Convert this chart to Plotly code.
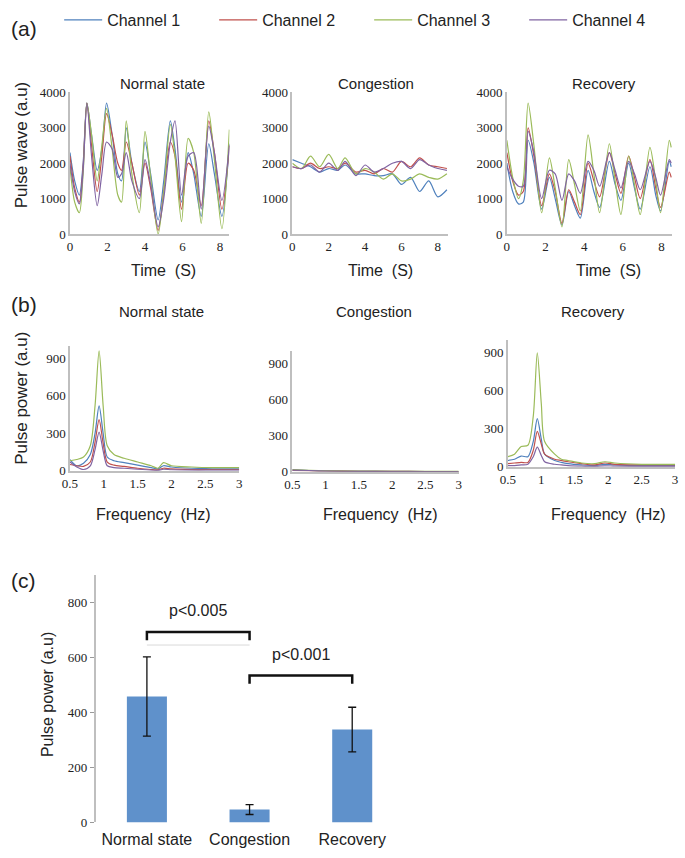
import plotly.graph_objects as go

W, H = 685, 858
def px(x): return x / W
def py(y): return 1 - y / H

channels = ["Channel 1", "Channel 2", "Channel 3", "Channel 4"]
colors = ["#4F81BD", "#C0504D", "#9BBB59", "#8064A2"]

# ---------------- (a) Pulse wave ----------------
t_normal = [0, 0.25, 0.5, 0.7, 0.9, 1.15, 1.45, 1.7, 1.95, 2.25, 2.55, 2.75, 3.0, 3.3, 3.7,
            4.0, 4.3, 4.7, 5.0, 5.35, 5.6, 5.95, 6.3, 6.6, 7.0, 7.4, 7.7, 8.1, 8.5]
normal_ch1 = [2300, 1500, 1100, 2000, 3700, 2800, 1800, 2400, 3700, 2800, 1700, 1500, 3000, 2000, 1200,
              2600, 1700, 400, 1500, 3200, 2400, 900, 2300, 1700, 500, 2550, 1700, 500, 2550]
normal_ch2 = [2200, 1300, 900, 1900, 3700, 2500, 1200, 2200, 3400, 2800, 2000, 1800, 2600, 2000, 1100,
              2000, 1300, 100, 1200, 2600, 2200, 700, 2000, 1800, 800, 3200, 2300, 700, 2500]
normal_ch3 = [1900, 900, 600, 1700, 3700, 2800, 1500, 2500, 3550, 2400, 1100, 900, 3200, 1700, 600,
              2900, 1600, 0, 1200, 3100, 2200, 350, 2700, 2300, 300, 3450, 2100, 150, 2950]
normal_ch4 = [2000, 1200, 850, 1800, 3700, 2200, 800, 1700, 2600, 2400, 1600, 1700, 2300, 1500, 1000,
              2100, 1400, 200, 1000, 2600, 3200, 1100, 2200, 2300, 700, 3050, 2300, 950, 2500]

t_cong = [0, 0.5, 1.0, 1.5, 2.0, 2.5, 2.9, 3.5, 4.0, 4.5, 5.0, 5.5, 6.0, 6.5, 7.0, 7.5, 8.0, 8.5]
cong_ch1 = [2100, 2000, 1900, 1750, 1850, 1800, 1950, 1700, 1700, 1650, 1650, 1700, 1400, 1600, 1200, 1500, 1050, 1250]
cong_ch2 = [1900, 1850, 2000, 1850, 1900, 1850, 2000, 1750, 1800, 1700, 1850, 1750, 2050, 1900, 2150, 1950, 1900, 1850]
cong_ch3 = [2000, 1850, 2200, 1900, 2250, 1850, 2150, 1700, 1850, 1750, 1550, 1700, 1500, 1550, 1700, 1600, 1550, 1700]
cong_ch4 = [1900, 1850, 1950, 1750, 2000, 1800, 2050, 1650, 1950, 1750, 1850, 2000, 2050, 1850, 2100, 1950, 1850, 1800]

t_rec = [0, 0.3, 0.6, 0.85, 1.1, 1.4, 1.8, 2.2, 2.5, 2.85, 3.2, 3.5, 3.8, 4.2, 4.5, 4.8,
         5.3, 5.6, 5.9, 6.3, 6.6, 6.9, 7.4, 7.7, 7.95, 8.4, 8.5]
rec_ch1 = [2000, 1200, 850, 900, 2650, 2000, 700, 1600, 1000, 250, 1200, 800, 450, 1800, 1200, 750,
           2050, 1400, 950, 2000, 1300, 700, 1900, 1100, 650, 2050, 1900]
rec_ch2 = [2300, 1500, 1100, 1200, 3000, 2200, 800, 1700, 1200, 300, 1250, 900, 550, 2000, 1500, 1050,
           2300, 1700, 1150, 2200, 1600, 1000, 2100, 1300, 750, 1750, 1600]
rec_ch3 = [2650, 1600, 1000, 1500, 3700, 2500, 600, 2150, 1300, 200, 2100, 1400, 650, 2800, 1700, 600,
           2550, 1500, 550, 2200, 1400, 550, 2450, 1500, 600, 2650, 2450]
rec_ch4 = [1900, 1550, 1350, 1350, 2900, 2300, 1000, 1800, 1700, 950, 1700, 1500, 1150, 2050, 1800, 1350,
           2300, 1800, 1300, 2050, 1700, 1250, 2050, 1600, 1100, 2100, 2000]

# ---------------- (b) Pulse power spectrum ----------------
f_normal = [0.5, 0.6, 0.7, 0.8, 0.87, 0.93, 0.99, 1.05, 1.15, 1.3, 1.5, 1.7, 1.8, 1.88, 2.0, 2.3, 2.6, 3.0]
pn_ch1 = [90, 40, 60, 130, 300, 520, 300, 110, 80, 65, 45, 25, 15, 40, 30, 20, 20, 20]
pn_ch2 = [50, 40, 35, 70, 230, 410, 220, 70, 45, 35, 20, 10, 8, 20, 15, 10, 10, 10]
pn_ch3 = [80, 90, 110, 200, 520, 960, 520, 200, 130, 100, 70, 40, 20, 65, 40, 30, 25, 25]
pn_ch4 = [70, 30, 10, 40, 170, 310, 160, 40, 25, 20, 12, 5, 3, 12, 8, 5, 5, 5]

f_cong = [0.5, 0.75, 1.0, 1.5, 2.0, 2.5, 3.0]
pc_ch1 = [15, 10, 7, 4, 3, 2, 2]
pc_ch2 = [12, 8, 6, 4, 3, 2, 2]
pc_ch3 = [18, 12, 8, 5, 4, 3, 3]
pc_ch4 = [14, 10, 6, 3, 2, 2, 2]

f_rec = [0.5, 0.6, 0.7, 0.8, 0.88, 0.94, 1.0, 1.05, 1.2, 1.3, 1.4, 1.6, 1.8, 1.95, 2.1, 2.5, 3.0]
pr_ch1 = [50, 60, 85, 80, 200, 380, 220, 100, 50, 35, 25, 15, 10, 20, 15, 10, 10]
pr_ch2 = [25, 30, 35, 35, 130, 280, 180, 100, 60, 50, 40, 25, 15, 30, 20, 15, 15]
pr_ch3 = [80, 100, 160, 170, 400, 900, 500, 200, 100, 60, 50, 30, 25, 40, 30, 20, 20]
pr_ch4 = [10, 10, 15, 20, 80, 155, 90, 40, 20, 15, 10, 5, 3, 8, 5, 3, 3]

# ---------------- (c) Bar chart ----------------
states = ["Normal state", "Congestion", "Recovery"]
power_mean = [458, 47, 338]
power_err = [144, 18, 81]
sig_pairs = [(0, 1), (1, 2)]
sig_level = [692, 534]
sig_text = ["p<0.005", "p<0.001"]

fig = go.Figure()

panels = [
    ("", t_normal, [normal_ch1, normal_ch2, normal_ch3, normal_ch4], True),
    ("2", t_cong, [cong_ch1, cong_ch2, cong_ch3, cong_ch4], False),
    ("3", t_rec, [rec_ch1, rec_ch2, rec_ch3, rec_ch4], False),
    ("4", f_normal, [pn_ch1, pn_ch2, pn_ch3, pn_ch4], False),
    ("5", f_cong, [pc_ch1, pc_ch2, pc_ch3, pc_ch4], False),
    ("6", f_rec, [pr_ch1, pr_ch2, pr_ch3, pr_ch4], False),
]
for ax, xs, series, show in panels:
    for name, col, ys in zip(channels, colors, series):
        fig.add_trace(go.Scatter(
            x=xs, y=ys, mode="lines", name=name, showlegend=show,
            line=dict(color=col, width=1.2, shape="spline", smoothing=0.8),
            xaxis="x" + ax, yaxis="y" + ax, cliponaxis=True))

fig.add_trace(go.Bar(
    x=states, y=power_mean, width=0.39, marker=dict(color="#5F91CB", line=dict(width=0)),
    error_y=dict(type="data", array=power_err, color="#111", thickness=1.3, width=4),
    xaxis="x7", yaxis="y7", showlegend=False))

for (a, b), lvl in zip(sig_pairs, sig_level):
    fig.add_trace(go.Scatter(
        x=[states[a], states[a], states[b], states[b]], y=[lvl - 30, lvl, lvl, lvl - 30], mode="lines",
        line=dict(color="#111", width=2.5), xaxis="x7", yaxis="y7", showlegend=False,
        hoverinfo="skip"))
a0, b0 = sig_pairs[0]
fig.add_trace(go.Scatter(
    x=[states[a0], states[b0]], y=[sig_level[0] - 47, sig_level[0] - 47], mode="lines",
    line=dict(color="#d9d9d9", width=1), xaxis="x7", yaxis="y7", showlegend=False,
    hoverinfo="skip"))

SERIF = "Liberation Serif, Times New Roman, serif"
SANS = "Liberation Sans, Arial, sans-serif"
tickfont = dict(family=SERIF, size=13, color="#222")
axline = dict(showline=True, linecolor="#bfbfbf", linewidth=1.5, showgrid=False, zeroline=False,
              ticks="", tickfont=tickfont, fixedrange=True)

def xa(d0, d1, rng, vals, texts=None, anchor="y"):
    d = dict(axline, domain=[px(d0), px(d1)], range=rng, tickvals=vals, anchor=anchor)
    if texts:
        d["ticktext"] = texts
    return d

def ya(d0, d1, rng, vals, anchor="x"):
    return dict(axline, domain=[py(d1), py(d0)], range=rng, tickvals=vals, anchor=anchor)

yv_a = [0, 1000, 2000, 3000, 4000]
yv_b = [0, 300, 600, 900]
xv_a = [0, 2, 4, 6, 8]
xv_b = [0.5, 1, 1.5, 2, 2.5, 3]
xt_b = ["0.5", "1", "1.5", "2", "2.5", "3"]

layout = dict(
    width=W, height=H, margin=dict(l=0, r=0, t=0, b=0),
    paper_bgcolor="white", plot_bgcolor="white",
    font=dict(family=SANS, color="#222"),
    xaxis=xa(63, 225, [0, 8.5], xv_a, anchor="y"),
    yaxis=ya(87, 231, [0, 4000], yv_a, anchor="x"),
    xaxis2=xa(289, 447, [0, 8.55], xv_a, anchor="y2"),
    yaxis2=ya(87, 231, [0, 4000], yv_a, anchor="x2"),
    xaxis3=xa(507, 675, [0, 8.55], xv_a, anchor="y3"),
    yaxis3=ya(87, 231, [0, 4000], yv_a, anchor="x3"),
    xaxis4=xa(63, 235, [0.5, 3], xv_b, xt_b, anchor="y4"),
    yaxis4=ya(345, 472, [0, 1000], yv_b, anchor="x4"),
    xaxis5=xa(289, 458, [0.5, 3], xv_b, xt_b, anchor="y5"),
    yaxis5=ya(350, 473, [0, 1000], yv_b, anchor="x5"),
    xaxis6=xa(508, 678, [0.5, 3], xv_b, xt_b, anchor="y6"),
    yaxis6=ya(339, 468, [0, 1000], yv_b, anchor="x6"),
    xaxis7=dict(domain=[px(89), px(402)], range=[-0.5, 2.5], anchor="y7", showline=False,
                showgrid=False, zeroline=False, ticks="", fixedrange=True, ticklabelstandoff=6,
                tickfont=dict(family=SANS, size=16, color="#222")),
    yaxis7=dict(axline, domain=[py(830), py(578)], range=[0, 900], tickvals=[0, 200, 400, 600, 800],
                anchor="x7", ticks="outside", ticklen=4, tickcolor="#999", tickwidth=1),
    legend=dict(orientation="h", x=px(52), y=py(-4), xanchor="left", yanchor="top",
                entrywidth=102, entrywidthmode="pixels", itemwidth=38,
                font=dict(family=SANS, size=16, color="#222"),
                bgcolor="rgba(0,0,0,0)"),
    bargap=0.6,
)
fig.update_layout(**layout)

def ann(text, x, y, size=15, angle=0, family=SANS):
    fig.add_annotation(text=text, x=px(x), y=py(y), xref="paper", yref="paper",
                       showarrow=False, textangle=angle, xanchor="center", yanchor="middle",
                       font=dict(family=family, size=size, color="#222"))

ann("(a)", 16, 22, 21)
ann("(b)", 16, 303, 21)
ann("(c)", 16, 584, 21)
for txt, x in [("Normal state", 157), ("Congestion", 374), ("Recovery", 606)]:
    ann(txt, x, 78, 15)
for txt, x in [("Normal state", 156), ("Congestion", 372), ("Recovery", 595)]:
    ann(txt, x, 310, 15)
for x in [158, 379, 610]:
    ann("Time  (S)", x, 268, 16)
for x in [148, 379, 610]:
    ann("Frequency  (Hz)", x, 517, 16)
ann("Pulse wave (a.u)", 14, 140, 17, -90)
ann("Pulse power (a.u)", 13, 398, 17, -90)
ann("Pulse power (a.u)", 40, 700, 16, -90)

for (a, b), lvl, txt in zip(sig_pairs, sig_level, sig_text):
    fig.add_annotation(text=txt, x=(a + b) / 2, y=lvl + 78, xref="x7", yref="y7", showarrow=False,
                       font=dict(family=SANS, size=16, color="#222"))

fig.write_html("out.html", config={"displayModeBar": False},
               post_script="document.body.style.margin='0';")
